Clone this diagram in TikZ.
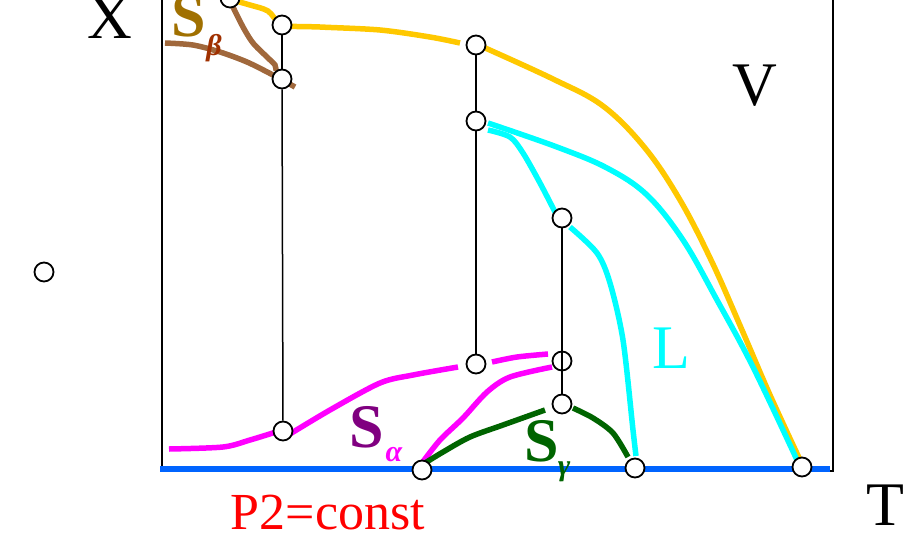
\documentclass[tikz,border=0pt]{standalone}
\usepackage{fontspec}
\setmainfont{Liberation Serif}
\usetikzlibrary{positioning}
\definecolor{LiqCyan}{RGB}{0, 255, 255}
\definecolor{VapYellow}{RGB}{255, 200, 0}
\definecolor{BetaBrown}{RGB}{160, 104, 60}
\definecolor{BetaGold}{RGB}{160, 112, 0}
\definecolor{BetaRust}{RGB}{160, 48, 0}
\definecolor{AlphaMag}{RGB}{255, 0, 255}
\definecolor{AlphaPurple}{RGB}{128, 0, 128}
\definecolor{GammaGreen}{RGB}{0, 100, 0}
\definecolor{AxisBlue}{RGB}{0, 100, 255}
\newcommand{\bigfont}{\fontsize{62}{62}\selectfont}
\newcommand{\subfont}{\fontsize{30}{30}\selectfont}

\begin{document}
\begin{tikzpicture}[x=1pt, y=-1pt,
    ring/.style={circle, draw, line width=1.8pt, fill=white, inner sep=0pt, minimum size=19pt},
    phase/.style={line width=5.5pt},
    tie/.style={line width=1.5pt},
    lbl/.style={font=\bigfont, inner sep=0pt}]
  \useasboundingbox (0,0) rectangle (922,547);

  % frame and axis
  \draw[tie] (162,0) -- (162,471) -- (833,471) -- (833,0);
  \draw[phase, AxisBlue] (160,469) -- (830,469);

  % vapour
  \draw[phase, VapYellow] plot[smooth] coordinates {(232,0) (250,5) (268,11) (283,25) (320,27) (380,30) (430,37) (460,43)};
  \draw[phase, VapYellow] plot[smooth, tension=0.6] coordinates {(483,47) (553,79) (603,106) (645,148) (680,200) (712,262) (742,330) (770,395) (801,462)};

  % beta
  \draw[phase, BetaBrown] plot[smooth] coordinates {(165,43) (193,45) (220,52) (247,62) (273,75) (295,87)};
  \draw[phase, BetaBrown] plot[smooth] coordinates {(232,5) (243,27) (253,43) (267,57) (275,65) (276,71)};

  % liquid
  \draw[phase, LiqCyan] plot[smooth, tension=0.6] coordinates {(488,123) (557,147) (607,168) (647,195) (683,240) (717,300) (753,367) (797,460)};
  \draw[phase, LiqCyan] plot[smooth] coordinates {(488,130) (510,137) (523,153) (540,183) (555,212)};
  \draw[phase, LiqCyan] plot[smooth] coordinates {(570,227) (597,253) (610,283) (623,340) (633,430) (636,456)};

  % alpha
  \draw[phase, AlphaMag] plot[smooth] coordinates {(169,449) (223,447) (250,440) (276,432)};
  \draw[phase, AlphaMag] plot[smooth] coordinates {(285,437) (330,410) (380,383) (413,375) (458,367)};
  \draw[phase, AlphaMag] plot[smooth] coordinates {(492,362) (517,357) (548,354)};
  \draw[phase, AlphaMag] plot[smooth] coordinates {(422,463) (440,440) (463,418) (487,392) (510,377) (552,367)};

  % gamma
  \draw[phase, GammaGreen] plot[smooth] coordinates {(425,463) (443,452) (470,437) (503,425) (545,410)};
  \draw[phase, GammaGreen] plot[smooth] coordinates {(573,408) (593,418) (613,433) (628,457)};

  % points
  \node[ring] (top) at (230,-2) {};
  \node[ring] (b1) at (282,25) {};
  \node[ring] (b2) at (282,79) {};
  \node[ring] (a1) at (283,431) {};
  \node[ring] (v1) at (476,45) {};
  \node[ring] (l1) at (476,121) {};
  \node[ring] (a2) at (476,364) {};
  \node[ring] (l2) at (562,218) {};
  \node[ring] (a3) at (562,361) {};
  \node[ring] (g1) at (562,404) {};
  \node[ring] (e1) at (422,470) {};
  \node[ring] (e2) at (635,468) {};
  \node[ring] (e3) at (802,467) {};
  \node[ring] (lone) at (44,272) {};

  % tie lines
  \draw[tie] (b1) -- (b2);
  \draw[tie] (b2) -- (a1);
  \draw[tie] (v1) -- (l1);
  \draw[tie] (l1) -- (a2);
  \draw[tie] (l2) -- (g1);

  % labels
  \node[lbl] (labX) at (110,18) {X};
  \node[lbl] (labV) at (755,86) {V};
  \node[lbl] (labT) at (885,505) {T};
  \node[lbl, LiqCyan] (labL) at (671,348) {L};
  \node[lbl, red, font=\fontsize{52}{52}\selectfont] (labP) at (328,513) {P2=const};
  \node[lbl, BetaGold] (labSb) at (189,16) {\textbf{S}};
  \node[inner sep=0pt, BetaRust, font=\subfont] (labb) at (214,48) {\textbf{\textit{β}}};
  \node[lbl, AlphaPurple] (labSa) at (367,427) {\textbf{S}};
  \node[inner sep=0pt, AlphaMag, font=\subfont] (laba) at (394,455) {\textbf{\textit{α}}};
  \node[lbl, GammaGreen] (labSg) at (542,441) {\textbf{S}};
  \node[inner sep=0pt, GammaGreen, font=\subfont] (labg) at (564,472) {\textbf{\textit{γ}}};
\end{tikzpicture}
\end{document}
